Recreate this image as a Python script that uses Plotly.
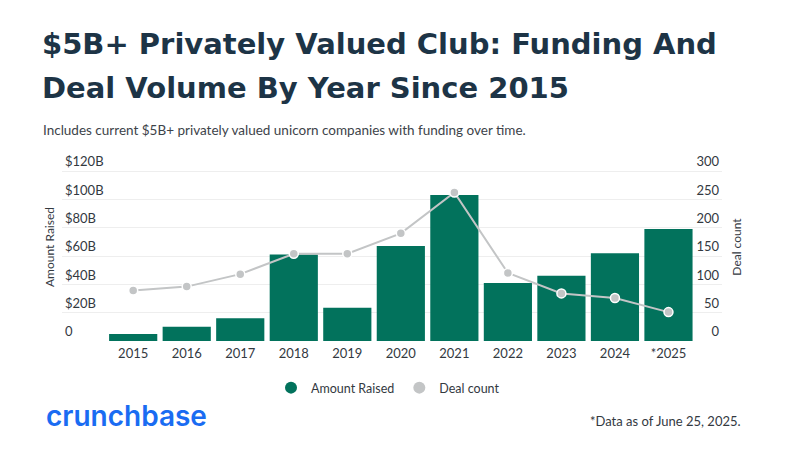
import plotly.graph_objects as go

# data
YEARS = ["2015", "2016", "2017", "2018", "2019", "2020", "2021", "2022", "2023", "2024", "*2025"]
AMOUNT_RAISED_B = [5, 10, 16, 61, 23.5, 67, 103, 41, 46, 62, 79]
DEAL_COUNT = [89, 96, 118, 154, 154, 190, 262, 120, 84, 76, 51]

AMOUNT_TICKS = [0, 20, 40, 60, 80, 100, 120]
AMOUNT_TICK_TEXT = ["0", "$20B", "$40B", "$60B", "$80B", "$100B", "$120B"]
DEAL_TICKS = [0, 50, 100, 150, 200, 250, 300]

GREEN = "#02725c"
GREY = "#c3c5c6"
NAVY = "#1d3446"
TEXT = "#33393f"
BODY_FONT = "Lato"

# the page body adds 8px around the figure, so page pixels are shifted by that
OFFSET = 8
# plot area in page pixels: 0 line at y=341, 120B / 300 line at y=171
PLOT_LEFT = 62
PLOT_RIGHT = 722
PLOT_TOP = 153
PLOT_BOTTOM = 341
PX_PER_B = 170 / 120


def px_y(y_px):
    """converts a pixel row of the page into paper units"""
    return (PLOT_BOTTOM - y_px) / (PLOT_BOTTOM - PLOT_TOP)


def px_x(x_px):
    """converts a pixel column of the page into paper units"""
    return (x_px - PLOT_LEFT) / (PLOT_RIGHT - PLOT_LEFT)


def build_figure():
    fig = go.Figure()

    fig.add_trace(
        go.Bar(
            x=YEARS,
            y=AMOUNT_RAISED_B,
            marker=dict(color=GREEN, line=dict(width=0)),
            showlegend=False,
            hoverinfo="skip",
        )
    )
    fig.add_trace(
        go.Scatter(
            x=YEARS,
            y=DEAL_COUNT,
            yaxis="y2",
            mode="lines+markers",
            line=dict(color=GREY, width=2),
            marker=dict(size=9, color=GREY, line=dict(color="white", width=1.5)),
            showlegend=False,
            hoverinfo="skip",
        )
    )

    # legend only entries so the swatches are round dots
    for name, colour in [("Amount Raised", GREEN), ("Deal count", GREY)]:
        fig.add_trace(
            go.Scatter(
                x=[None],
                y=[None],
                mode="markers",
                name=name,
                marker=dict(size=12, color=colour),
            )
        )

    top_amount = (PLOT_BOTTOM - PLOT_TOP) / PX_PER_B
    fig.update_layout(
        width=794,
        height=452,
        margin=dict(
            l=PLOT_LEFT - OFFSET,
            r=794 - PLOT_RIGHT + OFFSET,
            t=PLOT_TOP - OFFSET,
            b=452 - PLOT_BOTTOM + OFFSET,
        ),
        paper_bgcolor="white",
        plot_bgcolor="white",
        bargap=0.1,
        font=dict(family=BODY_FONT, size=13, color=TEXT),
        legend=dict(
            orientation="h",
            xref="container",
            yref="container",
            x=(388 - OFFSET) / 794,
            xanchor="center",
            y=1 - (388 - OFFSET) / 452,
            yanchor="middle",
            font=dict(size=12.5, color=TEXT),
            itemwidth=30,
        ),
        xaxis=dict(
            type="category",
            range=[-1.33, 11.0],
            showgrid=False,
            showline=False,
            ticks="",
            automargin=False,
            ticklabelstandoff=3,
            tickfont=dict(size=13, color=TEXT),
        ),
        yaxis=dict(
            range=[0, top_amount],
            tickvals=AMOUNT_TICKS,
            ticktext=AMOUNT_TICK_TEXT,
            ticklabelposition="inside top",
            showgrid=True,
            gridcolor="#eeeeee",
            gridwidth=1,
            zeroline=False,
            automargin=False,
            tickfont=dict(size=13, color=TEXT),
            title=dict(text="Amount Raised", standoff=7, font=dict(size=12, color=TEXT)),
        ),
        yaxis2=dict(
            range=[0, top_amount * 2.5],
            tickvals=DEAL_TICKS,
            overlaying="y",
            side="right",
            ticklabelposition="inside top",
            showgrid=False,
            zeroline=False,
            automargin=False,
            tickfont=dict(size=13, color=TEXT),
            title=dict(text="Deal count", standoff=14, font=dict(size=12, color=TEXT)),
        ),
    )

    title_lines = [
        ("$5B+ Privately Valued Club: Funding And", 44),
        ("Deal Volume By Year Since 2015", 88),
    ]
    for text, y_px in title_lines:
        fig.add_annotation(
            text=text,
            xref="paper",
            yref="paper",
            x=px_x(40),
            y=px_y(y_px),
            xanchor="left",
            yanchor="middle",
            showarrow=False,
            font=dict(family="DejaVu Sans", size=29, color=NAVY, weight="bold"),
        )

    fig.add_annotation(
        text="Includes current $5B+ privately valued unicorn companies with funding over time.",
        xref="paper",
        yref="paper",
        x=px_x(41),
        y=px_y(130),
        xanchor="left",
        yanchor="middle",
        showarrow=False,
        font=dict(family=BODY_FONT, size=13.5, color="#3d4349"),
    )
    fig.add_annotation(
        text="crunchbase",
        xref="paper",
        yref="paper",
        x=px_x(44),
        y=px_y(416),
        xanchor="left",
        yanchor="middle",
        showarrow=False,
        font=dict(family="Inter", size=28, color="#1a6cf2", weight=600),
    )
    fig.add_annotation(
        text="*Data as of June 25, 2025.",
        xref="paper",
        yref="paper",
        x=px_x(743),
        y=px_y(421),
        xanchor="right",
        yanchor="middle",
        showarrow=False,
        font=dict(family=BODY_FONT, size=13, color=TEXT),
    )
    return fig


def main():
    fig = build_figure()
    fig.write_html("out.html")


if __name__ == "__main__":
    main()
